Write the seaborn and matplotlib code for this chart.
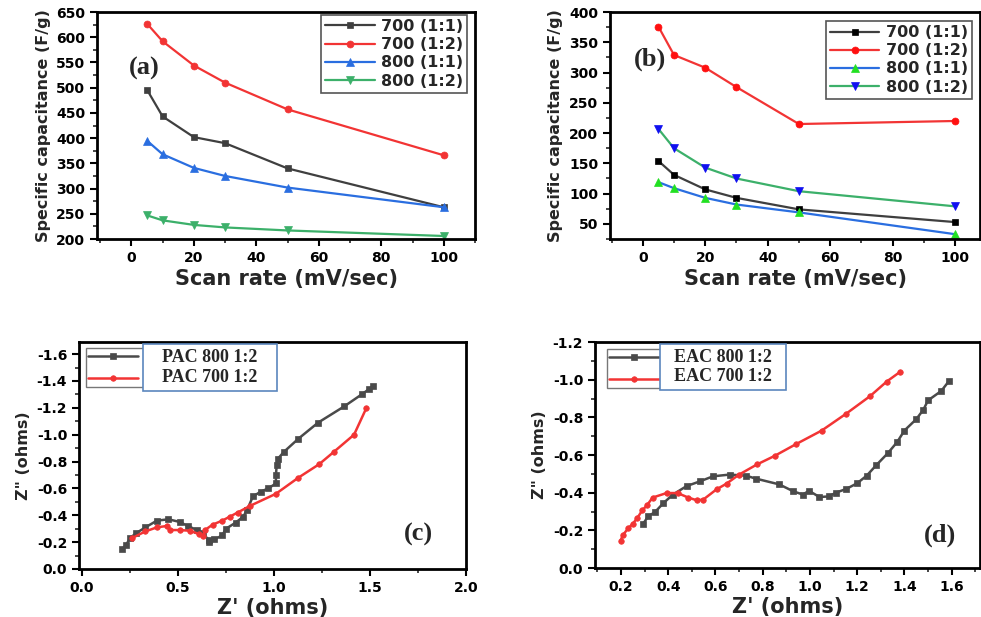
import matplotlib
matplotlib.use("Agg")
import matplotlib.pyplot as plt
import seaborn as sns
from matplotlib.patches import Rectangle
from matplotlib.ticker import MultipleLocator

# === data: specific capacitance vs scan rate
scan_rate = [5, 10, 20, 30, 50, 100]
series_names = ["700 (1:1)", "700 (1:2)", "800 (1:1)", "800 (1:2)"]

cap_a_700_11 = [496, 443, 402, 390, 340, 263]
cap_a_700_12 = [627, 592, 544, 510, 457, 366]
cap_a_800_11 = [395, 368, 341, 325, 302, 263]
cap_a_800_12 = [247, 237, 228, 223, 217, 206]

cap_b_700_11 = [154, 131, 107, 93, 74, 53]
cap_b_700_12 = [376, 329, 308, 276, 215, 220]
cap_b_800_11 = [119, 109, 93, 82, 69, 33]
cap_b_800_12 = [207, 175, 143, 125, 104, 79]

# === data: Nyquist plots (Z'' values are negative)
pac800_zre = [0.21, 0.23, 0.25, 0.28, 0.33, 0.39, 0.45, 0.51, 0.55, 0.60, 0.63, 0.66,
              0.66, 0.69, 0.73, 0.75, 0.80, 0.84, 0.86, 0.89, 0.93, 0.97, 1.01, 1.01,
              1.014, 1.02, 1.05, 1.127, 1.23, 1.365, 1.457, 1.496, 1.517]
pac800_zim = [-0.15, -0.18, -0.23, -0.265, -0.31, -0.36, -0.37, -0.35, -0.32, -0.29, -0.265, -0.215,
              -0.20, -0.22, -0.25, -0.30, -0.345, -0.39, -0.44, -0.54, -0.575, -0.60, -0.637, -0.70,
              -0.773, -0.82, -0.87, -0.97, -1.09, -1.21, -1.30, -1.34, -1.36]
pac700_zre = [0.26, 0.33, 0.39, 0.44, 0.46, 0.51, 0.56, 0.61, 0.63, 0.64, 0.68, 0.73,
              0.77, 0.81, 0.875, 1.01, 1.127, 1.235, 1.31, 1.417, 1.48]
pac700_zim = [-0.23, -0.28, -0.31, -0.32, -0.29, -0.29, -0.285, -0.26, -0.245, -0.29, -0.33, -0.36,
              -0.39, -0.42, -0.47, -0.56, -0.68, -0.78, -0.87, -1.00, -1.195]

eac800_zre = [0.294, 0.315, 0.344, 0.38, 0.42, 0.478, 0.534, 0.59, 0.66, 0.73, 0.77, 0.87,
              0.93, 0.97, 0.996, 1.04, 1.08, 1.11, 1.154, 1.20, 1.24, 1.28, 1.33, 1.37,
              1.40, 1.45, 1.48, 1.50, 1.556, 1.59]
eac800_zim = [-0.235, -0.274, -0.297, -0.345, -0.39, -0.435, -0.46, -0.487, -0.496, -0.49, -0.475, -0.444,
              -0.407, -0.39, -0.41, -0.377, -0.38, -0.40, -0.42, -0.45, -0.49, -0.545, -0.61, -0.67,
              -0.73, -0.79, -0.84, -0.89, -0.94, -0.995]
eac700_zre = [0.199, 0.207, 0.23, 0.25, 0.27, 0.29, 0.31, 0.334, 0.393, 0.44, 0.485, 0.52,
              0.548, 0.605, 0.647, 0.70, 0.776, 0.85, 0.94, 1.05, 1.154, 1.255, 1.325, 1.38]
eac700_zim = [-0.146, -0.173, -0.21, -0.235, -0.267, -0.306, -0.333, -0.374, -0.398, -0.398, -0.374, -0.36,
              -0.363, -0.418, -0.448, -0.496, -0.55, -0.595, -0.657, -0.73, -0.82, -0.913, -0.99, -1.04]

GRAY = "#3f3f3f"
RED = "#f23434"
BLUE = "#2a6ee0"
GREEN = "#3cb06a"

sns.set_style("ticks")
plt.rcParams["font.family"] = ["DejaVu Sans"]
plt.rcParams["font.weight"] = "bold"
plt.rcParams["axes.labelweight"] = "bold"
plt.rcParams["axes.unicode_minus"] = False

fig = plt.figure(figsize=(9.81, 6.17), dpi=100)
ax_a = fig.add_axes([0.0989, 0.6126, 0.3853, 0.3679])
ax_b = fig.add_axes([0.6218, 0.6126, 0.3772, 0.3679])
ax_c = fig.add_axes([0.0805, 0.0778, 0.3945, 0.3679])
ax_d = fig.add_axes([0.6065, 0.0794, 0.3925, 0.3663])


def style_axes(ax):
    for sp in ax.spines.values():
        sp.set_visible(True)
        sp.set_linewidth(2.0)
        sp.set_color("black")
    ax.tick_params(which="major", direction="out", length=5, width=1.5,
                   labelsize=10, top=False, right=False, colors="black")
    ax.tick_params(which="minor", direction="out", length=3, width=1.2,
                   top=False, right=False)
    ax.grid(False)


def draw(ax, x, y, color, marker, ms, label, mfc=None, lw=1.6):
    mfc = mfc or color
    sns.lineplot(x=x, y=y, ax=ax, color=color, marker=marker, markersize=ms,
                 markerfacecolor=mfc, markeredgecolor=mfc, markeredgewidth=0.5,
                 linewidth=lw, sort=False, estimator=None, label=label, legend=False)


# === (a)
draw(ax_a, scan_rate, cap_a_700_11, GRAY, "s", 5, series_names[0])
draw(ax_a, scan_rate, cap_a_700_12, RED, "o", 5, series_names[1])
draw(ax_a, scan_rate, cap_a_800_11, BLUE, "^", 6, series_names[2])
draw(ax_a, scan_rate, cap_a_800_12, GREEN, "v", 6, series_names[3])

# === (b)
draw(ax_b, scan_rate, cap_b_700_11, GRAY, "s", 5, series_names[0], mfc="black")
draw(ax_b, scan_rate, cap_b_700_12, RED, "o", 5, series_names[1], mfc="#ff1010")
draw(ax_b, scan_rate, cap_b_800_11, BLUE, "^", 6, series_names[2], mfc="#22e022")
draw(ax_b, scan_rate, cap_b_800_12, GREEN, "v", 6, series_names[3], mfc="#1010f0")

for ax, ylim, lab, lx, ly, anchor in [
        (ax_a, (200, 650), "(a)", 0.124, 0.753, (0.979, 0.987)),
        (ax_b, (25, 400), "(b)", 0.108, 0.793, (0.978, 0.960))]:
    style_axes(ax)
    ax.set_xlim(-11 if ax is ax_a else -10.5, 110 if ax is ax_a else 108)
    ax.set_ylim(*ylim)
    ax.xaxis.set_major_locator(MultipleLocator(20))
    ax.xaxis.set_minor_locator(MultipleLocator(10))
    ax.yaxis.set_major_locator(MultipleLocator(50))
    ax.yaxis.set_minor_locator(MultipleLocator(25))
    ax.set_ylim(*ylim)
    ax.set_xlabel("Scan rate (mV/sec)", fontsize=15, labelpad=3)
    ax.set_ylabel("Specific capacitance (F/g)", fontsize=11.5, labelpad=4)
    ax.text(lx, ly, lab, transform=ax.transAxes, ha="center", va="center",
            family="Liberation Serif", fontsize=19, fontweight="bold")
    leg = ax.legend(loc="upper right", bbox_to_anchor=anchor, frameon=True,
                    fancybox=False, framealpha=1, edgecolor="#555555",
                    prop={"size": 11.5, "weight": "bold"}, handlelength=3.1,
                    handletextpad=0.4, labelspacing=0.2, borderpad=0.25,
                    borderaxespad=0)
    leg.get_frame().set_linewidth(1.2)

# === (c) and (d)
draw(ax_c, pac800_zre, pac800_zim, "#4a4a4a", "s", 4, " ", lw=1.8)
draw(ax_c, pac700_zre, pac700_zim, RED, "o", 4, " ", lw=1.8)
draw(ax_d, eac800_zre, eac800_zim, "#4a4a4a", "s", 4, " ", lw=1.8)
draw(ax_d, eac700_zre, eac700_zim, RED, "o", 4, " ", lw=1.8)

panels = [
    (ax_c, (-0.016, 2.0), (0, -1.69), 0.5, 0.25, ["PAC 800 1:2", "PAC 700 1:2"],
     (0.018, 0.974), (0.165, 0.784, 0.347, 0.207), (0.338, 0.888), "(c)", (0.876, 0.15)),
    (ax_d, (0.09, 1.72), (0, -1.2), 0.2, 0.1, ["EAC 800 1:2", "EAC 700 1:2"],
     (0.031, 0.969), (0.169, 0.788, 0.327, 0.203), (0.332, 0.889), "(d)", (0.896, 0.146)),
]
for ax, xlim, ylim, xmaj, xmin, names, anchor, rect, tpos, lab, lpos in panels:
    style_axes(ax)
    ax.set_xlim(*xlim)
    ax.set_ylim(*ylim)
    ax.xaxis.set_major_locator(MultipleLocator(xmaj))
    ax.xaxis.set_minor_locator(MultipleLocator(xmin))
    ax.yaxis.set_major_locator(MultipleLocator(0.2))
    ax.yaxis.set_minor_locator(MultipleLocator(0.1))
    ax.set_xlim(*xlim)
    ax.set_ylim(*ylim)
    ax.set_xlabel("Z' (ohms)", fontsize=15, labelpad=2)
    ax.set_ylabel('Z" (ohms)', fontsize=11.5, labelpad=4)
    leg = ax.legend(loc="upper left", bbox_to_anchor=anchor, frameon=True,
                    fancybox=False, framealpha=1, edgecolor="#777777",
                    prop={"size": 10}, handlelength=3.6, handletextpad=1.2,
                    labelspacing=0.57, borderpad=0.12, borderaxespad=0)
    leg.get_frame().set_linewidth(1.0)
    ax.add_patch(Rectangle(rect[:2], rect[2], rect[3], transform=ax.transAxes,
                           facecolor="white", edgecolor="#5b86bd", linewidth=1.2,
                           zorder=6, clip_on=False))
    ax.text(tpos[0], tpos[1], "\n".join(names), transform=ax.transAxes,
            ha="center", va="center", family="Liberation Serif", fontsize=13,
            fontweight="bold", linespacing=1.2, zorder=7)
    ax.text(lpos[0], lpos[1], lab, transform=ax.transAxes, ha="center", va="center",
            family="Liberation Serif", fontsize=19, fontweight="bold")

fig.savefig("out.png", dpi=100)
